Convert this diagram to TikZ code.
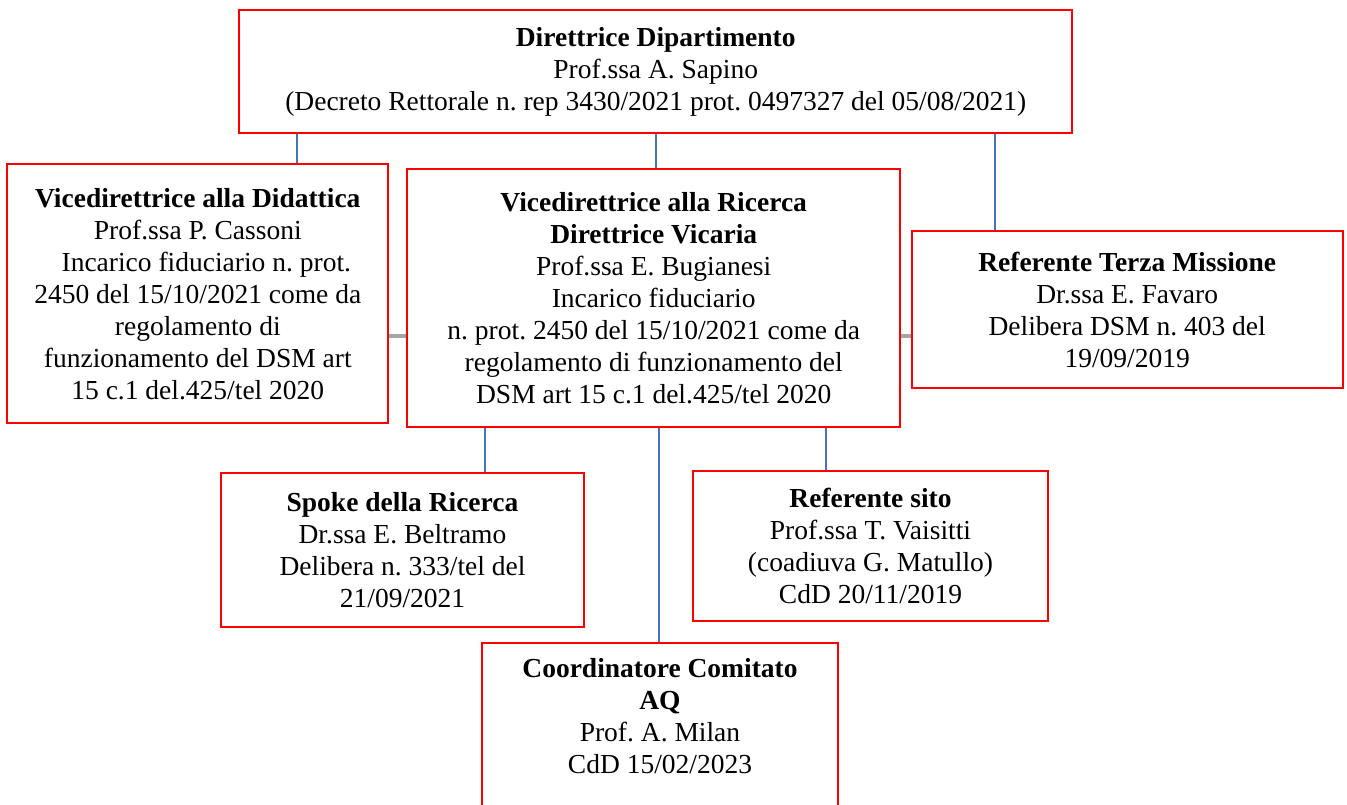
\documentclass[tikz,border=0pt]{standalone}
\usepackage{fontspec}
\setmainfont{Liberation Serif}
\frenchspacing
\definecolor{boxred}{HTML}{FF0000}
\definecolor{linkblue}{HTML}{4472C4}
\definecolor{linkgray}{HTML}{A5A5A5}
\tikzset{
  orgbox/.style={draw=boxred, line width=2pt, fill=white, rectangle, align=center, inner sep=2pt,
    font=\fontsize{27.5}{32}\selectfont\frenchspacing},
  bluelink/.style={draw=linkblue, line width=2.5pt},
  graylink/.style={draw=linkgray, line width=3.5pt}
}
\begin{document}
\begin{tikzpicture}[x=1pt,y=-1pt]
\useasboundingbox (0,0) rectangle (1347,805);
\clip (0,0) rectangle (1347,805);
\fill[white] (0,0) rectangle (1347,805);

% connector positions
\coordinate (cA) at (297,0);
\coordinate (cB) at (656,0);
\coordinate (cC) at (995,0);
\coordinate (cD) at (485,0);
\coordinate (cE) at (659,0);
\coordinate (cF) at (826,0);
\coordinate (gy) at (0,336);

\node[orgbox, minimum width=832.7pt, minimum height=123.3pt] (top) at (655.7,71.7)
  {\textbf{Direttrice Dipartimento}\\Prof.ssa A. Sapino\\(Decreto Rettorale n. rep 3430/2021 prot. 0497327 del 05/08/2021)};

\node[orgbox, minimum width=381pt, minimum height=259.3pt] (left) at (197.8,293.7)
  {\textbf{Vicedirettrice alla Didattica}\\Prof.ssa P. Cassoni\\\hspace*{17pt}Incarico fiduciario n. prot.\\2450 del 15/10/2021 come da\\regolamento di\\funzionamento del DSM art\\15 c.1 del.425/tel 2020};

\node[orgbox, minimum width=492.7pt, minimum height=258.3pt] (mid) at (653.7,298.2)
  {\textbf{Vicedirettrice alla Ricerca}\\\textbf{Direttrice Vicaria}\\Prof.ssa E. Bugianesi\\Incarico fiduciario\\n. prot. 2450 del 15/10/2021 come da\\regolamento di funzionamento del\\DSM art 15 c.1 del.425/tel 2020};

\node[orgbox, minimum width=431pt, minimum height=157.3pt] (right) at (1127.2,309.7)
  {\textbf{Referente Terza Missione}\\Dr.ssa E. Favaro\\Delibera DSM n. 403 del\\19/09/2019};

\node[orgbox, minimum width=363.6pt, minimum height=154.6pt] (spoke) at (402.5,550)
  {\textbf{Spoke della Ricerca}\\Dr.ssa E. Beltramo\\Delibera n. 333/tel del\\21/09/2021};

\node[orgbox, minimum width=355.6pt, minimum height=150.3pt] (sito) at (870.5,545.9)
  {\textbf{Referente sito}\\Prof.ssa T. Vaisitti\\(coadiuva G. Matullo)\\CdD 20/11/2019};

\node[orgbox, minimum width=355.4pt, minimum height=187.3pt] (coord) at (660,736.4)
  {\textbf{Coordinatore Comitato}\\\textbf{AQ}\\Prof. A. Milan\\CdD 15/02/2023\\\strut};

% gray links
\draw[graylink] (left.east |- gy) -- (mid.west |- gy);
\draw[graylink] (mid.east |- gy) -- (right.west |- gy);

% blue links
\draw[bluelink] (top.south -| cA) -- (left.north -| cA);
\draw[bluelink] (top.south -| cB) -- (mid.north -| cB);
\draw[bluelink] (top.south -| cC) -- (right.north -| cC);
\draw[bluelink] (mid.south -| cD) -- (spoke.north -| cD);
\draw[bluelink] (mid.south -| cE) -- (coord.north -| cE);
\draw[bluelink] (mid.south -| cF) -- (sito.north -| cF);
\end{tikzpicture}
\end{document}
